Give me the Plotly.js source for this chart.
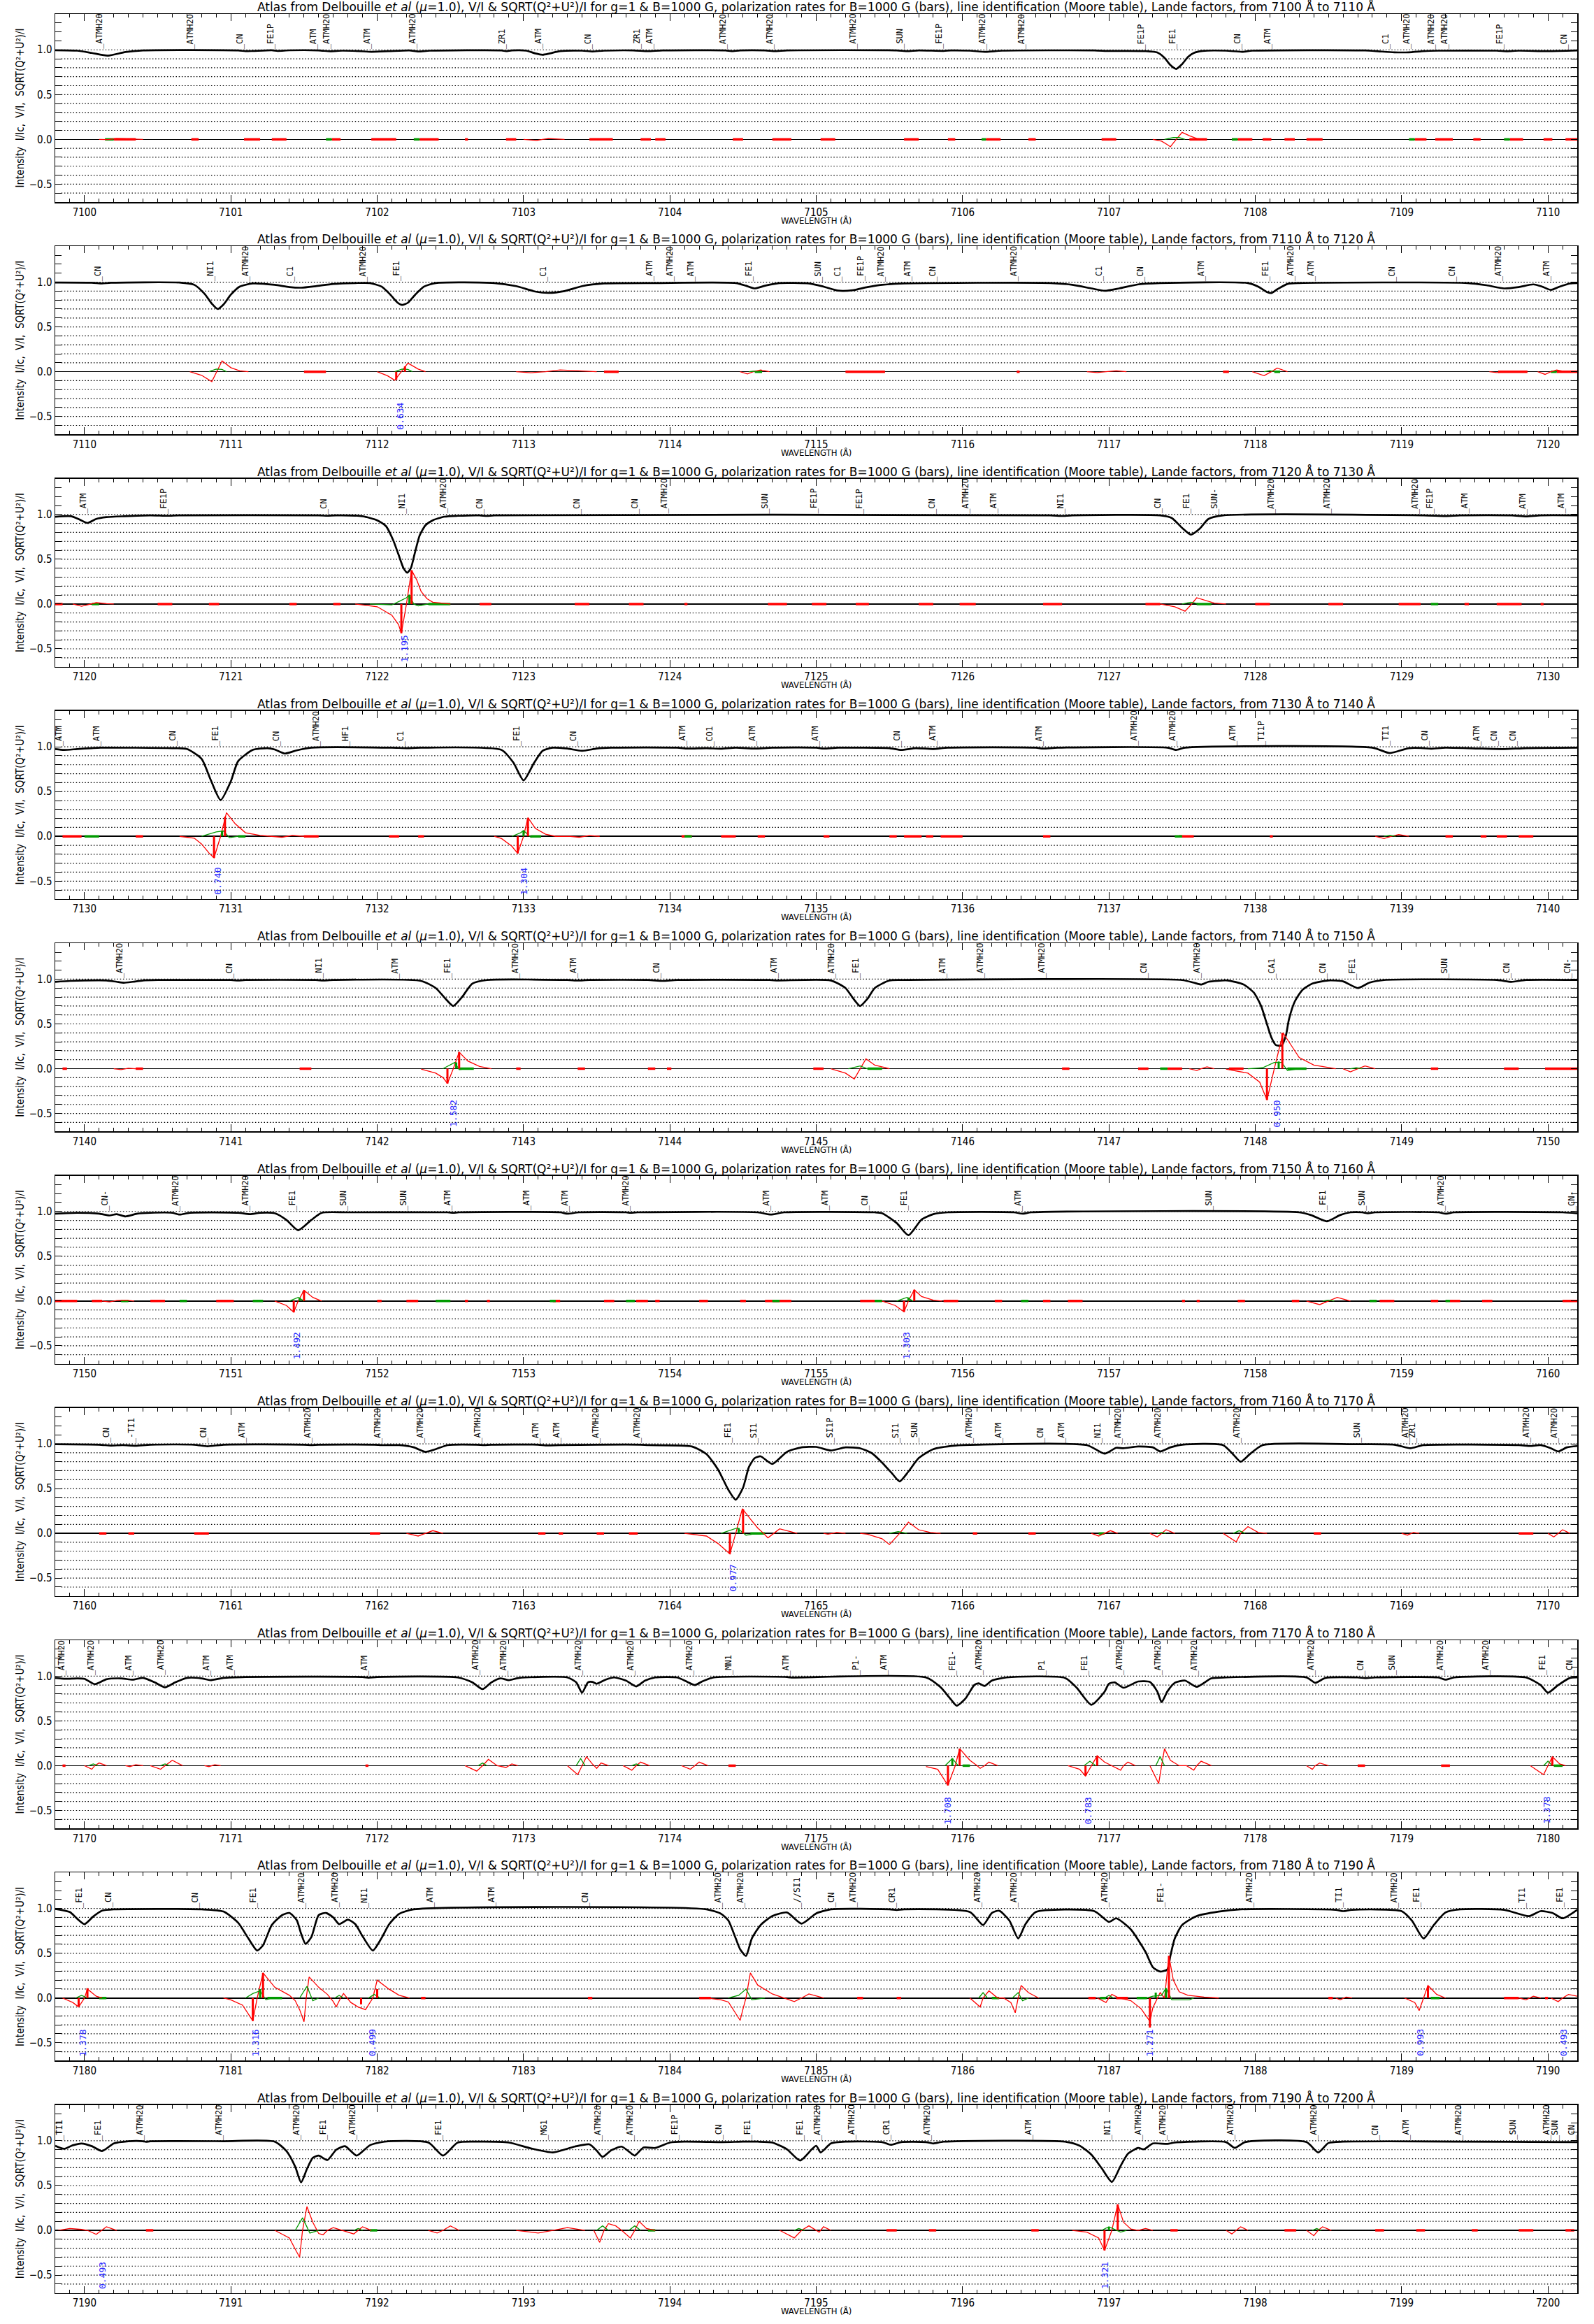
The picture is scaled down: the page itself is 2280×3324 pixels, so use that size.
<!DOCTYPE html>
<html>
<head>
<meta charset="utf-8">
<script src="https://cdn.plot.ly/plotly-3.0.1.min.js"></script>
<style>html,body{margin:0;padding:0;background:#fff;}#chart{width:2280px;height:3324px;}</style>
</head>
<body>
<div id="chart"></div>
<script>
// ---------------- DATA ----------------
const PANEL_STARTS = [7100,7110,7120,7130,7140,7150,7160,7170,7180,7190];

// ---- panel 1 : 7100-7110
const SPEC_1 = [[7099.80,0.995],[7099.95,0.99],[7100.05,0.965],[7100.16,0.935],[7100.28,0.975],[7100.40,0.993],[7101.05,0.993],[7101.10,0.985],[7101.15,0.987],[7101.28,0.995],[7101.32,0.988],[7101.40,0.994],[7101.60,0.993],[7101.68,0.983],[7101.76,0.99],[7101.88,0.985],[7101.96,0.978],[7102.08,0.985],[7102.22,0.993],[7102.28,0.982],[7102.36,0.99],[7102.85,0.993],[7102.88,0.985],[7102.92,0.993],[7103.02,0.99],[7103.08,0.96],[7103.13,0.945],[7103.18,0.96],[7103.25,0.985],[7103.40,0.99],[7103.47,0.982],[7103.55,0.99],[7103.75,0.993],[7103.85,0.985],[7103.95,0.993],[7104.38,0.993],[7104.42,0.985],[7104.48,0.993],[7104.65,0.993],[7104.72,0.985],[7104.80,0.993],[7105.55,0.993],[7105.62,0.985],[7105.70,0.993],[7105.87,0.988],[7105.92,0.993],[7106.05,0.99],[7106.16,0.977],[7106.27,0.99],[7106.90,0.993],[7107.00,0.987],[7107.25,0.985],[7107.33,0.97],[7107.38,0.91],[7107.42,0.83],[7107.46,0.786],[7107.50,0.84],[7107.54,0.92],[7107.58,0.965],[7107.64,0.987],[7107.80,0.99],[7107.91,0.978],[7107.98,0.99],[7108.75,0.993],[7108.85,0.982],[7108.95,0.972],[7109.05,0.972],[7109.15,0.985],[7109.25,0.99],[7109.65,0.99],[7109.72,0.984],[7109.80,0.99],[7110.00,0.985],[7110.20,0.993]];
const V_1 = [[7100.10,0],[7100.16,-0.003],[7100.22,0.01],[7100.30,0.008],[7100.40,0],null,[7103.00,0],[7103.09,-0.012],[7103.13,0],[7103.17,0.01],[7103.28,0],null,[7107.30,0],[7107.36,-0.02],[7107.40,-0.06],[7107.42,-0.083],[7107.46,0],[7107.50,0.078],[7107.55,0.04],[7107.60,0.01],[7107.66,0]];
const Q_1 = [[7107.38,0],[7107.44,0.02],[7107.48,0.02],[7107.52,0]];
const VBAR_1 = [];
const QBAR_1 = [];
const VDASH_1 = [[7100.20,7100.35],[7100.73,7100.78],[7101.09,7101.20],[7101.28,7101.38],[7101.69,7101.75],[7101.96,7102.13],[7102.29,7102.42],[7102.60,7102.62],[7102.88,7102.95],[7103.45,7103.61],[7103.80,7103.87],[7103.90,7103.97],[7104.43,7104.50],[7104.70,7104.83],[7105.03,7105.13],[7105.60,7105.70],[7105.90,7105.95],[7106.16,7106.26],[7106.45,7106.50],[7106.95,7107.05],[7107.55,7107.67],[7107.88,7107.98],[7108.05,7108.11],[7108.20,7108.27],[7108.35,7108.46],[7109.09,7109.17],[7109.23,7109.35],[7109.49,7109.54],[7109.74,7109.83],[7109.97,7110.03],[7110.12,7110.20]];
const QDASH_1 = [[7100.14,7100.20],[7101.65,7101.69],[7102.25,7102.29],[7106.13,7106.16],[7107.84,7107.88],[7109.05,7109.09],[7109.70,7109.74]];
const IDS_1 = [[7100.13,'ATMH2O'],[7100.75,'ATMH2O'],[7101.09,'CN'],[7101.30,'FE1P'],[7101.59,'ATM'],[7101.68,'ATMH2O'],[7101.96,'ATM'],[7102.27,'ATMH2O'],[7102.88,'ZR1'],[7103.13,'ATM'],[7103.47,'CN'],[7103.80,'ZR1'],[7103.89,'ATM'],[7104.39,'ATMH2O'],[7104.71,'ATMH2O'],[7105.28,'ATMH2O'],[7105.60,'SUN'],[7105.87,'FE1P'],[7106.16,'ATMH2O'],[7106.43,'ATMH2O'],[7107.25,'FE1P'],[7107.46,'FE1'],[7107.91,'CN'],[7108.11,'ATM'],[7108.92,'C1'],[7109.06,'ATMH2O'],[7109.23,'ATMH2O'],[7109.32,'ATMH2O'],[7109.70,'FE1P'],[7110.14,'CN']];
const LANDE_1 = [];

// ---- panel 2 : 7110-7120
const SPEC_2 = [[7109.80,0.995],[7110.05,0.993],[7110.12,0.985],[7110.18,0.993],[7110.65,0.995],[7110.75,0.97],[7110.82,0.87],[7110.87,0.76],[7110.91,0.70],[7110.95,0.75],[7111.00,0.86],[7111.06,0.95],[7111.15,0.985],[7111.30,0.97],[7111.40,0.945],[7111.48,0.938],[7111.58,0.955],[7111.70,0.98],[7111.85,0.99],[7111.95,0.99],[7112.03,0.95],[7112.09,0.86],[7112.14,0.77],[7112.17,0.745],[7112.21,0.77],[7112.26,0.86],[7112.32,0.95],[7112.40,0.99],[7112.80,0.99],[7112.95,0.955],[7113.08,0.895],[7113.17,0.88],[7113.28,0.9],[7113.40,0.955],[7113.55,0.985],[7113.90,0.99],[7114.45,0.99],[7114.52,0.96],[7114.58,0.93],[7114.65,0.96],[7114.75,0.99],[7114.95,0.985],[7115.05,0.95],[7115.15,0.905],[7115.25,0.91],[7115.35,0.945],[7115.45,0.97],[7115.60,0.985],[7116.60,0.99],[7116.75,0.97],[7116.88,0.93],[7116.97,0.903],[7117.07,0.93],[7117.20,0.975],[7117.35,0.99],[7117.95,0.99],[7118.02,0.95],[7118.08,0.89],[7118.11,0.878],[7118.15,0.92],[7118.22,0.98],[7118.30,0.99],[7119.45,0.99],[7119.58,0.965],[7119.70,0.93],[7119.80,0.945],[7119.90,0.975],[7119.96,0.95],[7120.02,0.913],[7120.08,0.95],[7120.15,0.985],[7120.20,0.99]];
const V_2 = [[7110.72,0],[7110.80,-0.04],[7110.87,-0.11],[7110.905,0],[7110.94,0.12],[7111.00,0.045],[7111.06,0.01],[7111.12,0],null,[7112.00,0],[7112.07,-0.045],[7112.12,-0.095],[7112.165,0],[7112.21,0.095],[7112.28,0.03],[7112.33,0],null,[7112.95,0],[7113.05,-0.012],[7113.15,0],[7113.25,0.02],[7113.35,0.012],[7113.50,0],null,[7114.48,0],[7114.53,-0.025],[7114.57,0],[7114.62,0.02],[7114.68,0],null,[7116.85,0],[7116.92,-0.01],[7116.98,0],[7117.05,0.01],[7117.12,0],null,[7117.98,0],[7118.06,-0.045],[7118.11,0],[7118.15,0.04],[7118.22,0],null,[7119.60,0],[7119.65,-0.01],[7119.72,0],null,[7119.93,0],[7119.98,-0.03],[7120.02,0],[7120.06,0.02],[7120.12,0]];
const Q_2 = [[7110.85,0],[7110.90,0.03],[7110.94,0.025],[7110.97,0],null,[7112.12,0],[7112.17,0.03],[7112.21,0.025],[7112.24,0],null,[7114.54,0],[7114.57,0.006],[7114.60,0],null,[7118.06,0],[7118.10,0.012],[7118.14,0]];
const VBAR_2 = [[7112.13,-0.09],[7112.19,0.06]];
const QBAR_2 = [];
const VDASH_2 = [[7111.50,7111.65],[7113.55,7113.65],[7115.20,7115.47],[7116.37,7116.39],[7117.78,7117.82],[7119.66,7119.86],[7120.06,7120.20]];
const QDASH_2 = [[7114.58,7114.63],[7118.13,7118.17],[7120.02,7120.06]];
const IDS_2 = [[7110.12,'CN'],[7110.89,'NI1'],[7111.13,'ATMH2O'],[7111.43,'C1'],[7111.93,'ATMH2O'],[7112.16,'FE1'],[7113.16,'C1'],[7113.89,'ATM'],[7114.03,'ATMH2O'],[7114.17,'ATM'],[7114.57,'FE1'],[7115.04,'SUN'],[7115.17,'C1'],[7115.33,'FE1P'],[7115.47,'ATMH2O'],[7115.65,'ATM'],[7115.82,'CN'],[7116.38,'ATMH2O'],[7116.96,'C1'],[7117.24,'CN'],[7117.66,'ATM'],[7118.10,'FE1'],[7118.27,'ATMH2O'],[7118.41,'ATM'],[7118.96,'CN'],[7119.37,'CN'],[7119.69,'ATMH2O'],[7120.02,'ATM']];
const LANDE_2 = [[7112.16,0.634]];

// ---- panel 3 : 7120-7130
const SPEC_3 = [[7119.80,0.975],[7119.91,0.98],[7119.97,0.94],[7120.02,0.905],[7120.08,0.95],[7120.15,0.97],[7120.27,0.98],[7120.45,0.99],[7120.57,0.985],[7120.65,0.99],[7121.60,0.99],[7121.66,0.985],[7121.72,0.99],[7121.90,0.98],[7122.00,0.935],[7122.06,0.87],[7122.11,0.71],[7122.145,0.555],[7122.18,0.40],[7122.205,0.35],[7122.23,0.40],[7122.255,0.555],[7122.29,0.765],[7122.33,0.88],[7122.38,0.935],[7122.46,0.975],[7122.55,0.985],[7122.70,0.99],[7122.75,0.983],[7122.80,0.99],[7126.60,0.99],[7126.68,0.983],[7126.75,0.99],[7127.35,0.99],[7127.43,0.96],[7127.50,0.85],[7127.56,0.775],[7127.62,0.84],[7127.68,0.95],[7127.78,0.99],[7129.15,0.99],[7129.30,0.982],[7129.40,0.99],[7129.75,0.99],[7129.85,0.978],[7129.95,0.99],[7130.20,0.99]];
const V_3 = [[7119.92,0],[7119.98,-0.025],[7120.03,-0.005],[7120.08,0.015],[7120.15,0.005],[7120.20,0],null,[7121.85,0],[7122.00,-0.03],[7122.10,-0.125],[7122.146,-0.23],[7122.165,-0.327],[7122.20,0],[7122.235,0.377],[7122.27,0.27],[7122.30,0.14],[7122.34,0.06],[7122.38,0.02],[7122.46,0.005],[7122.50,0],null,[7127.35,0],[7127.45,-0.03],[7127.52,-0.08],[7127.56,-0.01],[7127.60,0.07],[7127.66,0.04],[7127.72,0.01],[7127.80,0]];
const Q_3 = [[7121.95,0],[7122.10,-0.01],[7122.15,0.03],[7122.20,0.07],[7122.22,0.1],[7122.25,0],[7122.28,-0.02],[7122.35,0],null,[7127.50,0],[7127.56,0.02],[7127.62,0]];
const VBAR_3 = [[7122.165,-0.327],[7122.235,0.377]];
const QBAR_3 = [[7122.22,0.1]];
const VDASH_3 = [[7119.80,7119.85],[7120.50,7120.60],[7120.85,7120.92],[7121.40,7121.45],[7121.70,7121.75],[7122.70,7122.78],[7123.35,7123.45],[7123.72,7123.82],[7124.10,7124.12],[7124.67,7124.80],[7124.97,7125.07],[7125.27,7125.36],[7125.70,7125.80],[7125.98,7126.09],[7126.55,7126.68],[7127.25,7127.35],[7128.00,7128.10],[7128.50,7128.60],[7128.98,7129.13],[7129.43,7129.46],[7129.65,7129.82],[7129.95,7129.97]];
const QDASH_3 = [[7120.05,7120.10],[7122.35,7122.50],[7127.60,7127.70],[7129.20,7129.25]];
const IDS_3 = [[7120.02,'ATM'],[7120.57,'FE1P'],[7121.66,'CN'],[7122.20,'NI1'],[7122.48,'ATMH2O'],[7122.73,'CN'],[7123.39,'CN'],[7123.79,'CN'],[7123.99,'ATMH2O'],[7124.68,'SUN'],[7125.01,'FE1P'],[7125.32,'FE1P'],[7125.82,'CN'],[7126.05,'ATMH2O'],[7126.24,'ATM'],[7126.70,'NI1'],[7127.36,'CN'],[7127.56,'FE1'],[7127.75,'SUN-'],[7128.14,'ATMH2O'],[7128.52,'ATMH2O'],[7129.12,'ATMH2O'],[7129.22,'FE1P'],[7129.46,'ATM'],[7129.86,'ATM'],[7130.12,'ATM']];
const LANDE_3 = [[7122.19,1.195]];

// ---- panel 4 : 7130-7140
const SPEC_4 = [[7129.80,0.975],[7129.86,0.965],[7129.95,0.975],[7130.05,0.985],[7130.11,0.99],[7130.60,0.985],[7130.70,0.975],[7130.80,0.865],[7130.86,0.64],[7130.93,0.405],[7131.00,0.615],[7131.05,0.84],[7131.15,0.965],[7131.25,0.985],[7131.30,0.97],[7131.37,0.925],[7131.45,0.96],[7131.55,0.99],[7132.10,0.99],[7132.20,0.985],[7132.30,0.99],[7132.85,0.965],[7132.93,0.825],[7133.00,0.625],[7133.07,0.815],[7133.13,0.955],[7133.20,0.99],[7133.30,0.98],[7133.40,0.955],[7133.50,0.98],[7133.60,0.99],[7134.05,0.99],[7134.12,0.98],[7134.25,0.985],[7134.35,0.978],[7134.45,0.99],[7134.58,0.98],[7134.70,0.99],[7135.00,0.99],[7135.05,0.98],[7135.15,0.99],[7135.50,0.985],[7135.58,0.965],[7135.68,0.985],[7135.80,0.975],[7135.90,0.99],[7136.50,0.99],[7136.55,0.98],[7136.65,0.99],[7137.40,0.99],[7137.46,0.965],[7137.52,0.99],[7138.80,0.99],[7138.92,0.93],[7139.05,0.985],[7139.15,0.985],[7139.20,0.978],[7139.30,0.99],[7139.55,0.98],[7139.70,0.975],[7139.85,0.985],[7140.20,0.99]];
const V_4 = [[7130.65,0],[7130.75,-0.02],[7130.80,-0.085],[7130.85,-0.185],[7130.885,-0.24],[7130.93,0],[7130.97,0.265],[7131.03,0.14],[7131.10,0.04],[7131.20,0.01],[7131.28,0],[7131.35,-0.01],[7131.42,0.01],[7131.50,0],null,[7132.80,0],[7132.85,-0.025],[7132.92,-0.11],[7132.96,-0.19],[7133.00,0],[7133.03,0.21],[7133.08,0.09],[7133.15,0.025],[7133.22,0],[7133.32,0],[7133.38,-0.01],[7133.45,0.008],[7133.52,0],null,[7138.82,0],[7138.88,-0.025],[7138.93,0],[7138.98,0.02],[7139.05,0]];
const Q_4 = [[7130.80,0],[7130.90,0.05],[7130.95,0.06],[7130.99,-0.015],[7131.05,0],null,[7132.92,0],[7132.98,0.04],[7133.00,0.065],[7133.05,-0.01],[7133.10,0],null,[7138.88,0],[7138.92,0.01],[7138.96,0]];
const VBAR_4 = [[7130.885,-0.24],[7130.96,0.22],[7132.96,-0.19],[7133.03,0.2]];
const QBAR_4 = [[7130.94,0.06],[7133.00,0.065]];
const VDASH_4 = [[7129.85,7129.98],[7130.35,7130.40],[7131.50,7131.60],[7132.08,7132.15],[7132.28,7132.32],[7134.08,7134.15],[7134.35,7134.45],[7134.60,7134.65],[7135.05,7135.09],[7135.50,7135.55],[7135.60,7135.72],[7135.75,7135.80],[7135.85,7136.00],[7136.55,7136.60],[7137.48,7137.58],[7138.10,7138.12],[7139.30,7139.35],[7139.54,7139.58],[7139.65,7139.72],[7139.80,7139.90]];
const QDASH_4 = [[7130.00,7130.10],[7131.05,7131.10],[7133.05,7133.12],[7134.10,7134.15],[7137.45,7137.50]];
const IDS_4 = [[7129.85,'ATM'],[7130.11,'ATM'],[7130.63,'CN'],[7130.92,'FE1'],[7131.34,'CN'],[7131.61,'ATMH2O'],[7131.81,'HF1'],[7132.19,'C1'],[7132.98,'FE1'],[7133.37,'CN'],[7134.11,'ATM'],[7134.30,'CO1'],[7134.59,'ATM'],[7135.02,'ATM'],[7135.58,'CN'],[7135.82,'ATM'],[7136.55,'ATM'],[7137.20,'ATMH2O'],[7137.46,'ATMH2O'],[7137.87,'ATM'],[7138.07,'TI1P'],[7138.92,'TI1'],[7139.19,'CN'],[7139.54,'ATM'],[7139.66,'CN'],[7139.79,'CN']];
const LANDE_4 = [[7130.91,0.740],[7133.00,1.304]];

// ---- panel 5 : 7140-7150
const SPEC_5 = [[7139.80,0.97],[7139.90,0.98],[7140.00,0.985],[7140.15,0.985],[7140.22,0.97],[7140.27,0.96],[7140.33,0.97],[7140.40,0.985],[7140.50,0.99],[7141.00,0.99],[7141.05,0.985],[7141.10,0.99],[7141.58,0.99],[7141.63,0.985],[7141.70,0.99],[7142.30,0.98],[7142.40,0.9],[7142.47,0.775],[7142.52,0.70],[7142.58,0.8],[7142.65,0.95],[7142.75,0.99],[7143.30,0.99],[7143.37,0.985],[7143.45,0.99],[7143.85,0.99],[7143.95,0.98],[7144.05,0.99],[7144.68,0.99],[7144.74,0.985],[7145.10,0.985],[7145.20,0.9],[7145.25,0.79],[7145.30,0.70],[7145.35,0.78],[7145.40,0.9],[7145.50,0.985],[7145.60,0.99],[7147.50,0.99],[7147.58,0.96],[7147.63,0.94],[7147.68,0.97],[7147.81,0.985],[7147.92,0.94],[7147.99,0.85],[7148.04,0.70],[7148.07,0.55],[7148.11,0.35],[7148.14,0.265],[7148.18,0.26],[7148.21,0.375],[7148.23,0.55],[7148.27,0.75],[7148.32,0.875],[7148.39,0.95],[7148.50,0.985],[7148.60,0.975],[7148.70,0.90],[7148.78,0.96],[7148.88,0.99],[7149.65,0.99],[7149.75,0.97],[7149.85,0.99],[7150.20,0.99]];
const V_5 = [[7140.20,0],[7140.25,-0.01],[7140.30,0.005],[7140.35,0],null,[7142.30,-0.005],[7142.40,-0.05],[7142.45,-0.1],[7142.48,-0.165],[7142.52,0],[7142.56,0.185],[7142.62,0.085],[7142.70,0.025],[7142.78,0],null,[7145.10,0],[7145.20,-0.05],[7145.26,-0.115],[7145.30,0],[7145.34,0.11],[7145.40,0.04],[7145.50,0],null,[7147.55,0],[7147.60,-0.02],[7147.63,0],[7147.67,0.02],[7147.72,0],null,[7147.80,-0.005],[7147.95,-0.05],[7148.03,-0.15],[7148.08,-0.35],[7148.13,0],[7148.19,0.4],[7148.25,0.25],[7148.30,0.125],[7148.40,0.04],[7148.50,0.01],[7148.55,0],null,[7148.60,0],[7148.65,-0.035],[7148.70,0],[7148.75,0.03],[7148.82,0]];
const Q_5 = [[7142.45,0],[7142.50,0.04],[7142.53,0.07],[7142.56,-0.01],[7142.62,0],null,[7145.22,0],[7145.28,0.02],[7145.30,0.03],[7145.35,0],null,[7147.95,0],[7148.05,0.01],[7148.13,0.07],[7148.18,0.07],[7148.22,-0.02],[7148.30,0],null,[7148.65,0],[7148.69,0.01],[7148.73,0]];
const VBAR_5 = [[7142.48,-0.165],[7142.56,0.185],[7148.08,-0.35],[7148.185,0.4]];
const QBAR_5 = [[7142.54,0.07],[7148.16,0.08]];
const VDASH_5 = [[7139.85,7139.88],[7140.35,7140.40],[7141.47,7141.55],[7142.95,7142.98],[7143.37,7143.42],[7143.85,7143.90],[7143.98,7144.01],[7144.98,7145.05],[7146.68,7146.73],[7147.20,7147.27],[7147.40,7147.50],[7147.82,7147.92],[7149.20,7149.25],[7149.70,7149.80],[7149.98,7150.20]];
const QDASH_5 = [[7142.56,7142.66],[7145.35,7145.45],[7147.35,7147.40],[7148.22,7148.35]];
const IDS_5 = [[7140.27,'ATMH2O'],[7141.02,'CN'],[7141.63,'NI1'],[7142.15,'ATM'],[7142.51,'FE1'],[7142.97,'ATMH2O'],[7143.37,'ATM'],[7143.94,'CN'],[7144.74,'ATM'],[7145.13,'ATMH2O'],[7145.30,'FE1'],[7145.89,'ATM'],[7146.15,'ATMH2O'],[7146.57,'ATMH2O'],[7147.27,'CN'],[7147.63,'ATMH2O'],[7148.14,'CA1'],[7148.49,'CN'],[7148.69,'FE1'],[7149.32,'SUN'],[7149.75,'CN'],[7150.16,'CN-']];
const LANDE_5 = [[7142.52,1.582],[7148.15,0.950]];

// ---- panel 6 : 7150-7160
const SPEC_6 = [[7149.80,0.975],[7149.95,0.985],[7150.10,0.975],[7150.17,0.955],[7150.22,0.97],[7150.28,0.945],[7150.36,0.975],[7150.45,0.985],[7150.60,0.985],[7150.65,0.965],[7150.72,0.985],[7151.05,0.985],[7151.13,0.97],[7151.20,0.985],[7151.30,0.98],[7151.38,0.905],[7151.46,0.79],[7151.55,0.905],[7151.62,0.985],[7151.80,0.99],[7152.48,0.99],[7152.52,0.985],[7152.56,0.99],[7153.25,0.99],[7153.30,0.975],[7153.38,0.99],[7153.70,0.99],[7153.73,0.985],[7153.78,0.99],[7154.60,0.99],[7154.69,0.965],[7154.78,0.99],[7155.40,0.99],[7155.45,0.98],[7155.55,0.87],[7155.63,0.735],[7155.72,0.91],[7155.80,0.97],[7155.90,0.99],[7156.35,0.99],[7156.41,0.975],[7156.47,0.99],[7158.30,0.99],[7158.38,0.96],[7158.49,0.89],[7158.58,0.96],[7158.65,0.99],[7158.73,0.99],[7158.77,0.98],[7158.82,0.99],[7159.25,0.99],[7159.30,0.975],[7159.36,0.99],[7160.10,0.99],[7160.20,0.98]];
const V_6 = [[7150.12,0],[7150.17,-0.01],[7150.22,0.005],[7150.28,0.01],[7150.34,0],null,[7151.30,0],[7151.38,-0.05],[7151.43,-0.125],[7151.46,0],[7151.50,0.12],[7151.56,0.04],[7151.62,0],null,[7155.45,0],[7155.54,-0.05],[7155.60,-0.12],[7155.63,0],[7155.67,0.125],[7155.72,0.05],[7155.80,0.01],[7155.86,0],null,[7158.35,0],[7158.44,-0.04],[7158.50,0],[7158.56,0.04],[7158.65,0]];
const Q_6 = [[7151.40,0],[7151.46,0.04],[7151.50,0],null,[7155.55,0],[7155.62,0.04],[7155.66,0],null,[7158.46,0],[7158.50,0.01],[7158.54,0]];
const VBAR_6 = [[7151.43,-0.125],[7151.50,0.12],[7155.60,-0.12],[7155.67,0.125]];
const QBAR_6 = [[7151.47,0.04],[7155.63,0.04]];
const VDASH_6 = [[7149.80,7149.95],[7150.05,7150.12],[7150.45,7150.55],[7150.90,7151.02],[7152.00,7152.03],[7152.20,7152.28],[7152.60,7152.62],[7152.75,7152.77],[7153.20,7153.25],[7153.55,7153.62],[7153.77,7153.85],[7153.90,7153.93],[7154.20,7154.26],[7154.48,7154.52],[7154.65,7154.83],[7155.30,7155.40],[7155.87,7155.97],[7156.22,7156.27],[7156.55,7156.60],[7156.72,7156.82],[7157.50,7157.52],[7157.60,7157.62],[7157.88,7157.93],[7158.25,7158.30],[7158.85,7158.95],[7159.20,7159.25],[7159.33,7159.40],[7159.55,7159.62],[7160.10,7160.20]];
const QDASH_6 = [[7150.25,7150.30],[7150.65,7150.70],[7151.15,7151.22],[7152.40,7152.50],[7153.18,7153.22],[7153.70,7153.76],[7154.70,7154.75],[7155.40,7155.45],[7156.40,7156.45],[7158.78,7158.83],[7159.30,7159.33]];
const IDS_6 = [[7150.17,'CN-'],[7150.65,'ATMH2O'],[7151.13,'ATMH2O'],[7151.45,'FE1'],[7151.80,'SUN'],[7152.21,'SUN'],[7152.51,'ATM'],[7153.05,'ATM'],[7153.31,'ATM'],[7153.73,'ATMH2O'],[7154.69,'ATM'],[7155.09,'ATM'],[7155.36,'CN'],[7155.63,'FE1'],[7156.41,'ATM'],[7157.71,'SUN'],[7158.49,'FE1'],[7158.76,'SUN'],[7159.30,'ATMH2O'],[7160.19,'CN-']];
const LANDE_6 = [[7151.45,1.492],[7155.62,1.303]];

// ---- panel 7 : 7160-7170
const SPEC_7 = [[7159.80,0.995],[7160.10,0.99],[7160.18,0.98],[7160.26,0.985],[7160.35,0.978],[7160.45,0.99],[7160.75,0.99],[7160.84,0.972],[7160.95,0.99],[7161.50,0.99],[7161.55,0.985],[7161.60,0.99],[7161.98,0.99],[7162.03,0.985],[7162.15,0.985],[7162.25,0.96],[7162.33,0.91],[7162.40,0.94],[7162.48,0.985],[7162.68,0.99],[7162.73,0.985],[7162.78,0.99],[7163.10,0.99],[7163.15,0.982],[7163.25,0.985],[7163.50,0.99],[7163.80,0.99],[7163.85,0.985],[7164.15,0.97],[7164.25,0.885],[7164.33,0.71],[7164.40,0.485],[7164.45,0.375],[7164.50,0.51],[7164.54,0.74],[7164.58,0.84],[7164.62,0.86],[7164.70,0.775],[7164.80,0.91],[7164.90,0.96],[7165.00,0.965],[7165.10,0.925],[7165.20,0.96],[7165.30,0.95],[7165.38,0.895],[7165.45,0.79],[7165.52,0.665],[7165.57,0.58],[7165.63,0.69],[7165.70,0.84],[7165.80,0.94],[7165.95,0.98],[7166.10,0.99],[7166.85,0.985],[7166.97,0.89],[7167.05,0.955],[7167.10,0.95],[7167.20,0.97],[7167.30,0.96],[7167.35,0.915],[7167.42,0.96],[7167.50,0.99],[7167.78,0.985],[7167.85,0.88],[7167.90,0.80],[7167.96,0.88],[7168.05,0.985],[7168.70,0.995],[7168.95,0.99],[7169.06,0.95],[7169.15,0.985],[7169.80,0.985],[7169.88,0.975],[7169.95,0.985],[7170.02,0.95],[7170.07,0.915],[7170.13,0.96],[7170.20,0.975]];
const V_7 = [[7162.20,0],[7162.28,-0.03],[7162.33,0],[7162.38,0.03],[7162.45,0],null,[7164.10,0],[7164.25,-0.03],[7164.33,-0.115],[7164.38,-0.19],[7164.41,-0.23],[7164.45,0],[7164.495,0.275],[7164.55,0.16],[7164.60,0.06],[7164.64,0],[7164.67,-0.05],[7164.71,0],[7164.75,0.05],[7164.80,0.03],[7164.87,0],null,[7165.05,0],[7165.08,-0.01],[7165.14,0.01],[7165.20,0],null,[7165.30,0],[7165.35,-0.01],[7165.45,-0.06],[7165.50,-0.125],[7165.57,0],[7165.63,0.125],[7165.70,0.04],[7165.78,0.01],[7165.85,0],null,[7166.88,0],[7166.93,-0.03],[7166.97,0],[7167.01,0.03],[7167.06,0],null,[7167.28,0],[7167.33,-0.04],[7167.36,0],[7167.39,0.04],[7167.45,0],null,[7167.78,0],[7167.87,-0.095],[7167.90,0],[7167.95,0.075],[7168.02,0.01],[7168.08,0],null,[7169.00,0],[7169.04,-0.02],[7169.08,0.01],[7169.12,0],null,[7170.00,0],[7170.04,-0.04],[7170.07,0],[7170.10,0.04],[7170.15,0]];
const Q_7 = [[7164.35,0],[7164.42,0.04],[7164.46,0.06],[7164.52,-0.02],[7164.60,0],null,[7165.50,0],[7165.56,0.02],[7165.62,0],null,[7167.33,0],[7167.36,0.01],[7167.39,0],null,[7167.85,0],[7167.89,0.03],[7167.93,0]];
const VBAR_7 = [[7164.41,-0.23],[7164.50,0.27]];
const QBAR_7 = [[7164.47,0.06]];
const VDASH_7 = [[7160.10,7160.15],[7160.30,7160.34],[7160.75,7160.85],[7161.95,7162.02],[7163.10,7163.15],[7163.24,7163.27],[7163.50,7163.55],[7163.72,7163.78],[7166.07,7166.10],[7166.45,7166.50],[7168.40,7168.45],[7169.80,7169.90]];
const QDASH_7 = [[7164.55,7164.65],[7166.93,7166.97]];
const IDS_7 = [[7160.18,'CN'],[7160.35,'-TI1'],[7160.84,'CN'],[7161.10,'ATM'],[7161.55,'ATMH2O'],[7162.03,'ATMH2O'],[7162.32,'ATMH2O'],[7162.71,'ATMH2O'],[7163.11,'ATM'],[7163.25,'ATM'],[7163.52,'ATMH2O'],[7163.80,'ATMH2O'],[7164.42,'FE1'],[7164.60,'SI1'],[7165.12,'SI1P'],[7165.57,'SI1'],[7165.70,'SUN'],[7166.07,'ATMH2O'],[7166.27,'ATM'],[7166.56,'CN'],[7166.70,'ATM'],[7166.95,'NI1'],[7167.09,'ATMH2O'],[7167.36,'ATMH2O'],[7167.90,'ATMH2O'],[7168.72,'SUN'],[7169.05,'ATMH2O'],[7169.10,'ZR1'],[7169.88,'ATMH2O'],[7170.07,'ATMH2O']];
const LANDE_7 = [[7164.43,0.977]];

// ---- panel 8 : 7170-7180
const SPEC_8 = [[7169.80,0.98],[7169.87,0.97],[7169.95,0.975],[7170.00,0.97],[7170.07,0.91],[7170.15,0.965],[7170.25,0.975],[7170.33,0.96],[7170.40,0.98],[7170.48,0.93],[7170.55,0.875],[7170.62,0.93],[7170.70,0.98],[7170.80,0.975],[7170.86,0.955],[7170.95,0.98],[7171.10,0.99],[7171.90,0.99],[7171.94,0.982],[7172.00,0.99],[7172.55,0.985],[7172.65,0.93],[7172.72,0.855],[7172.78,0.93],[7172.84,0.975],[7172.90,0.955],[7172.97,0.98],[7173.30,0.985],[7173.36,0.93],[7173.40,0.815],[7173.44,0.93],[7173.47,0.935],[7173.50,0.915],[7173.56,0.96],[7173.62,0.985],[7173.70,0.95],[7173.77,0.885],[7173.83,0.95],[7173.90,0.985],[7174.05,0.985],[7174.12,0.935],[7174.17,0.9],[7174.22,0.94],[7174.30,0.985],[7174.80,0.99],[7174.82,0.985],[7175.75,0.985],[7175.85,0.875],[7175.92,0.74],[7175.96,0.67],[7176.02,0.75],[7176.08,0.9],[7176.11,0.92],[7176.15,0.89],[7176.20,0.95],[7176.30,0.985],[7176.70,0.98],[7176.78,0.87],[7176.88,0.68],[7176.97,0.825],[7177.00,0.915],[7177.04,0.93],[7177.10,0.87],[7177.20,0.94],[7177.28,0.935],[7177.33,0.83],[7177.36,0.71],[7177.40,0.83],[7177.45,0.925],[7177.52,0.95],[7177.60,0.88],[7177.70,0.975],[7177.80,0.985],[7178.35,0.985],[7178.41,0.925],[7178.48,0.98],[7178.70,0.985],[7178.75,0.978],[7178.82,0.985],[7179.25,0.985],[7179.30,0.96],[7179.36,0.985],[7179.85,0.985],[7179.95,0.9],[7180.00,0.815],[7180.07,0.9],[7180.15,0.98],[7180.20,0.985]];
const V_8 = [[7170.00,0],[7170.05,-0.04],[7170.07,0],[7170.10,0.03],[7170.15,0],null,[7170.28,0],[7170.31,-0.01],[7170.35,0.01],[7170.40,0],null,[7170.45,0],[7170.52,-0.04],[7170.55,0],[7170.60,0.06],[7170.67,0],null,[7170.82,0],[7170.85,-0.01],[7170.89,0.01],[7170.93,0],null,[7172.60,0],[7172.68,-0.06],[7172.72,0],[7172.76,0.07],[7172.82,0],[7172.88,-0.02],[7172.92,0.02],[7172.96,0],null,[7173.30,0],[7173.37,-0.1],[7173.40,0],[7173.43,0.1],[7173.47,0.02],[7173.50,-0.03],[7173.53,0.03],[7173.58,0],null,[7173.68,0],[7173.74,-0.05],[7173.77,0],[7173.80,0.04],[7173.86,0],null,[7174.08,0],[7174.14,-0.04],[7174.17,0],[7174.20,0.04],[7174.26,0],null,[7175.75,-0.01],[7175.83,-0.04],[7175.90,-0.22],[7175.95,0],[7175.98,0.19],[7176.05,0.06],[7176.10,0],[7176.12,-0.03],[7176.15,0],[7176.18,0.04],[7176.24,0],null,[7176.72,0],[7176.80,-0.04],[7176.84,-0.115],[7176.88,0],[7176.92,0.11],[7176.97,0.04],[7177.02,0],[7177.08,-0.05],[7177.10,0],[7177.13,0.04],[7177.18,0],null,[7177.28,0],[7177.34,-0.2],[7177.36,0],[7177.38,0.19],[7177.42,0.06],[7177.48,0],[7177.53,0],[7177.58,-0.05],[7177.60,0],[7177.63,0.05],[7177.70,0],null,[7178.35,0],[7178.39,-0.04],[7178.41,0],[7178.44,0.03],[7178.50,0],null,[7179.88,0],[7179.97,-0.1],[7180.00,0],[7180.03,0.1],[7180.08,0.02],[7180.12,0]];
const Q_8 = [[7170.03,0],[7170.06,0.02],[7170.09,0],null,[7170.52,0],[7170.55,0.02],[7170.58,0],null,[7172.69,0],[7172.72,0.03],[7172.75,0],null,[7173.36,0],[7173.39,0.08],[7173.42,0],null,[7173.74,0],[7173.77,0.02],[7173.80,0],null,[7175.88,0],[7175.93,0.08],[7175.97,0],null,[7176.83,0],[7176.87,0.05],[7176.91,0],null,[7177.32,0],[7177.35,0.1],[7177.38,0],null,[7179.97,0],[7180.00,0.05],[7180.03,0]];
const VBAR_8 = [[7175.90,-0.22],[7175.98,0.19],[7176.84,-0.115],[7176.92,0.11],[7180.03,0.09]];
const QBAR_8 = [[7175.93,0.08]];
const VDASH_8 = [[7169.85,7169.87],[7171.92,7171.94],[7174.40,7174.45],[7178.70,7178.75],[7179.27,7179.33]];
const QDASH_8 = [[7176.00,7176.05],[7180.04,7180.10]];
const IDS_8 = [[7169.87,'ATMH2O'],[7170.07,'ATMH2O'],[7170.33,'ATM'],[7170.55,'ATMH2O'],[7170.86,'ATM'],[7171.02,'ATM'],[7171.94,'ATM'],[7172.70,'ATMH2O'],[7172.89,'ATMH2O'],[7173.40,'ATMH2O'],[7173.76,'ATMH2O'],[7174.16,'ATMH2O'],[7174.43,'MN1'],[7174.82,'ATM'],[7175.30,'P1-'],[7175.49,'ATM'],[7175.96,'FE1-'],[7176.14,'ATMH2O'],[7176.57,'P1'],[7176.86,'FE1'],[7177.10,'ATMH2O'],[7177.36,'ATMH2O'],[7177.61,'ATMH2O'],[7178.41,'ATMH2O'],[7178.75,'CN'],[7178.96,'SUN'],[7179.29,'ATMH2O'],[7179.60,'ATMH2O'],[7179.99,'FE1'],[7180.18,'CN']];
const LANDE_8 = [[7175.90,1.708],[7176.86,0.783],[7179.99,1.378]];

// ---- panel 9 : 7180-7190
const SPEC_9 = [[7179.80,0.995],[7179.90,0.96],[7179.95,0.885],[7180.00,0.825],[7180.06,0.91],[7180.12,0.975],[7180.20,0.99],[7180.80,0.99],[7180.95,0.965],[7181.05,0.84],[7181.12,0.665],[7181.18,0.53],[7181.22,0.59],[7181.28,0.815],[7181.35,0.925],[7181.40,0.95],[7181.45,0.87],[7181.48,0.72],[7181.51,0.605],[7181.55,0.68],[7181.60,0.925],[7181.65,0.95],[7181.70,0.9],[7181.74,0.825],[7181.80,0.875],[7181.85,0.825],[7181.90,0.69],[7181.97,0.53],[7182.03,0.67],[7182.08,0.82],[7182.15,0.94],[7182.25,0.99],[7184.25,0.99],[7184.35,0.94],[7184.40,0.865],[7184.45,0.665],[7184.48,0.545],[7184.52,0.47],[7184.56,0.665],[7184.62,0.815],[7184.70,0.915],[7184.80,0.955],[7184.90,0.83],[7185.00,0.945],[7185.10,0.99],[7185.50,0.99],[7185.55,0.983],[7185.60,0.99],[7186.05,0.96],[7186.14,0.815],[7186.20,0.95],[7186.25,0.975],[7186.32,0.865],[7186.38,0.665],[7186.43,0.825],[7186.50,0.96],[7186.90,0.97],[7187.00,0.85],[7187.05,0.89],[7187.15,0.765],[7187.25,0.515],[7187.30,0.345],[7187.35,0.295],[7187.40,0.32],[7187.42,0.47],[7187.45,0.665],[7187.50,0.815],[7187.60,0.915],[7187.75,0.965],[7187.90,0.99],[7188.55,0.985],[7188.60,0.97],[7188.66,0.985],[7189.00,0.97],[7189.07,0.865],[7189.15,0.665],[7189.22,0.815],[7189.30,0.955],[7189.40,0.99],[7189.70,0.985],[7189.87,0.915],[7189.95,0.97],[7190.03,0.95],[7190.10,0.89],[7190.20,0.985]];
const V_9 = [[7179.85,0],[7179.92,-0.05],[7179.96,-0.1],[7180.00,0],[7180.02,0.1],[7180.08,0.02],[7180.12,0],null,[7180.95,0],[7181.00,-0.02],[7181.08,-0.08],[7181.15,-0.255],[7181.18,0],[7181.22,0.28],[7181.30,0.12],[7181.40,0.03],[7181.44,-0.03],[7181.47,-0.13],[7181.50,-0.265],[7181.515,0],[7181.535,0.235],[7181.60,0.12],[7181.66,0.04],[7181.70,-0.04],[7181.72,-0.1],[7181.75,0],[7181.77,0.05],[7181.82,-0.05],[7181.87,-0.1],[7181.92,-0.13],[7181.97,0],[7182.00,0.2],[7182.08,0.1],[7182.15,0.03],[7182.22,0],null,[7184.25,0],[7184.35,-0.02],[7184.40,-0.045],[7184.45,-0.18],[7184.48,-0.25],[7184.50,-0.12],[7184.52,0],[7184.55,0.28],[7184.60,0.145],[7184.70,0.045],[7184.78,0],[7184.85,-0.04],[7184.90,0],[7184.95,0.045],[7185.05,0],null,[7186.05,0],[7186.12,-0.1],[7186.14,0],[7186.18,0.08],[7186.24,0],[7186.28,0],[7186.33,-0.05],[7186.36,-0.165],[7186.38,0],[7186.40,0.14],[7186.45,0.06],[7186.52,0],null,[7186.92,0],[7186.98,-0.05],[7187.00,0],[7187.02,0.04],[7187.07,0],[7187.15,-0.03],[7187.22,-0.12],[7187.28,-0.26],[7187.30,-0.11],[7187.33,0],[7187.35,0.06],[7187.38,0],[7187.41,0.47],[7187.44,0.2],[7187.48,0.07],[7187.54,0.03],[7187.65,0.01],[7187.75,0],null,[7188.55,0],[7188.58,-0.02],[7188.62,0.01],[7188.66,0],null,[7189.02,0],[7189.09,-0.05],[7189.12,-0.14],[7189.15,0],[7189.18,0.14],[7189.24,0.04],[7189.30,0],null,[7189.80,0],[7189.85,-0.02],[7189.90,0.02],[7189.95,0],null,[7190.02,0],[7190.07,-0.04],[7190.10,0],[7190.14,0.04],[7190.20,0.02]];
const Q_9 = [[7179.94,0],[7179.98,0.03],[7180.02,0],null,[7181.10,0],[7181.15,0.05],[7181.20,0.08],[7181.24,-0.02],[7181.28,0],null,[7181.47,0],[7181.52,0.13],[7181.56,-0.03],[7181.60,0],null,[7181.71,0],[7181.74,0.03],[7181.77,0],null,[7181.94,0],[7181.98,0.04],[7182.02,0],null,[7184.40,0],[7184.47,0.03],[7184.52,0.1],[7184.56,-0.02],[7184.65,0],null,[7186.11,0],[7186.14,0.06],[7186.17,0],null,[7186.34,0],[7186.38,0.06],[7186.41,-0.03],[7186.45,0],null,[7186.97,0],[7187.00,0.03],[7187.03,0],null,[7187.26,0],[7187.30,0.02],[7187.36,0.03],[7187.39,0.11],[7187.43,-0.02],[7187.55,-0.02],[7187.58,0]];
const VBAR_9 = [[7179.96,-0.09],[7180.02,0.11],[7181.15,-0.255],[7181.22,0.28],[7181.89,-0.07],[7182.00,0.1],[7187.28,-0.33],[7187.41,0.47],[7189.18,0.13]];
const QBAR_9 = [[7181.20,0.1],[7187.32,0.06],[7187.39,0.11]];
const VDASH_9 = [[7182.30,7182.33],[7183.44,7183.47],[7184.20,7184.28],[7185.28,7185.32],[7185.55,7185.58],[7186.86,7186.91],[7187.05,7187.13],[7188.50,7188.53],[7189.70,7189.80],[7189.98,7190.00]];
const QDASH_9 = [[7180.10,7180.15],[7181.25,7181.35],[7186.20,7186.25],[7186.94,7186.98],[7187.19,7187.26],[7189.20,7189.26]];
const IDS_9 = [[7179.99,'FE1'],[7180.19,'CN'],[7180.78,'CN'],[7181.18,'FE1'],[7181.51,'ATMH2O'],[7181.74,'ATMH2O'],[7181.94,'NI1'],[7182.39,'ATM'],[7182.81,'ATM'],[7183.45,'CN'],[7184.36,'ATMH2O'],[7184.51,'ATMH2O'],[7184.90,'//SI1'],[7185.13,'CN'],[7185.28,'ATMH2O'],[7185.55,'CR1'],[7186.13,'ATMH2O'],[7186.38,'ATMH2O'],[7187.00,'ATMH2O'],[7187.38,'FE1-'],[7187.99,'ATMH2O'],[7188.60,'TI1'],[7188.98,'ATMH2O'],[7189.13,'FE1'],[7189.85,'TI1'],[7190.11,'FE1']];
const LANDE_9 = [[7179.99,1.378],[7181.17,1.316],[7181.97,0.499],[7187.28,1.271],[7189.13,0.993],[7190.11,0.493]];

// ---- panel 10 : 7190-7200
const SPEC_10 = [[7189.80,0.945],[7189.86,0.91],[7189.92,0.95],[7189.98,0.97],[7190.05,0.94],[7190.12,0.885],[7190.20,0.97],[7190.30,0.995],[7190.40,0.995],[7190.42,0.988],[7190.45,0.995],[7190.95,0.995],[7191.30,0.99],[7191.38,0.885],[7191.44,0.71],[7191.48,0.535],[7191.52,0.685],[7191.56,0.81],[7191.60,0.835],[7191.66,0.785],[7191.72,0.9],[7191.78,0.94],[7191.86,0.835],[7191.95,0.95],[7192.05,0.99],[7192.35,0.98],[7192.45,0.835],[7192.55,0.98],[7192.70,0.99],[7192.90,0.98],[7193.05,0.915],[7193.20,0.87],[7193.35,0.935],[7193.45,0.96],[7193.50,0.89],[7193.54,0.82],[7193.60,0.895],[7193.67,0.935],[7193.72,0.88],[7193.76,0.835],[7193.82,0.925],[7193.90,0.92],[7194.00,0.98],[7194.10,0.99],[7194.36,0.985],[7194.50,0.99],[7194.60,0.99],[7194.70,0.98],[7194.80,0.905],[7194.89,0.78],[7194.97,0.905],[7195.00,0.945],[7195.03,0.87],[7195.10,0.97],[7195.20,0.99],[7195.45,0.985],[7195.51,0.955],[7195.58,0.985],[7195.75,0.985],[7195.80,0.97],[7195.87,0.99],[7196.70,0.99],[7196.80,0.945],[7196.88,0.845],[7196.95,0.695],[7197.02,0.54],[7197.08,0.72],[7197.13,0.855],[7197.20,0.92],[7197.24,0.905],[7197.30,0.97],[7197.40,0.965],[7197.45,0.98],[7197.80,0.985],[7197.86,0.92],[7197.93,0.985],[7198.35,0.985],[7198.43,0.87],[7198.50,0.975],[7198.60,0.99],[7200.20,0.985]];
const V_10 = [[7189.82,0],[7189.90,0.02],[7189.98,0.01],[7190.02,0],[7190.08,-0.045],[7190.12,0],[7190.15,0.04],[7190.22,0],null,[7191.30,0],[7191.40,-0.085],[7191.44,-0.21],[7191.47,-0.3],[7191.49,0],[7191.52,0.265],[7191.56,0.09],[7191.60,-0.035],[7191.63,-0.05],[7191.66,0],[7191.70,0.03],[7191.76,0],[7191.84,-0.04],[7191.87,0],[7191.90,0.04],[7191.96,0],null,[7192.35,0],[7192.41,-0.03],[7192.45,0],[7192.50,0.05],[7192.56,0],null,[7192.95,0],[7193.10,-0.03],[7193.20,0],[7193.30,0.03],[7193.42,0],null,[7193.48,0],[7193.52,-0.135],[7193.55,0],[7193.58,0.075],[7193.63,0.05],[7193.67,0],[7193.73,-0.085],[7193.76,0],[7193.79,0.1],[7193.84,0.02],[7193.90,0],null,[7194.75,0],[7194.85,-0.085],[7194.90,0],[7194.95,0.05],[7195.00,0],[7195.02,-0.02],[7195.05,0.04],[7195.10,0],null,[7196.75,0],[7196.85,-0.02],[7196.93,-0.085],[7196.97,-0.225],[7197.02,0],[7197.06,0.29],[7197.10,0.09],[7197.15,0.015],[7197.20,0],[7197.25,0.02],[7197.30,0],null,[7197.80,0],[7197.84,-0.04],[7197.87,0],[7197.90,0.04],[7197.95,0],null,[7198.35,0],[7198.40,-0.06],[7198.43,0],[7198.46,0.04],[7198.52,0]];
const Q_10 = [[7191.44,0],[7191.49,0.14],[7191.54,-0.03],[7191.60,0],null,[7191.84,0],[7191.87,0.02],[7191.90,0],null,[7193.50,0],[7193.54,0.05],[7193.58,0],null,[7193.72,0],[7193.76,0.05],[7193.80,0],null,[7194.85,0],[7194.88,0.02],[7194.92,0],null,[7196.95,0],[7197.00,0.04],[7197.08,-0.02],[7197.12,0],null,[7198.39,0],[7198.42,0.02],[7198.45,0]];
const VBAR_10 = [[7196.97,-0.225],[7197.06,0.29]];
const QBAR_10 = [[7197.00,0.04]];
const VDASH_10 = [[7190.42,7190.47],[7195.48,7195.55],[7195.77,7195.82],[7196.47,7196.52],[7197.42,7197.47],[7198.20,7198.28],[7198.82,7198.88],[7199.10,7199.16],[7199.48,7199.52],[7199.80,7199.90],[7200.12,7200.18]];
const QDASH_10 = [[7191.95,7192.00],[7193.85,7193.90]];
const IDS_10 = [[7189.86,'TI1'],[7190.12,'FE1'],[7190.41,'ATMH2O'],[7190.95,'ATMH2O'],[7191.48,'ATMH2O'],[7191.66,'FE1'],[7191.86,'ATMH2O'],[7192.45,'FE1'],[7193.17,'MG1'],[7193.54,'ATMH2O'],[7193.76,'ATMH2O'],[7194.06,'FE1P'],[7194.36,'CN'],[7194.56,'FE1'],[7194.92,'FE1'],[7195.04,'ATMH2O'],[7195.27,'ATMH2O'],[7195.51,'CR1'],[7195.79,'ATMH2O'],[7196.48,'ATM'],[7197.02,'NI1'],[7197.23,'ATMH2O'],[7197.40,'ATMH2O'],[7197.86,'ATMH2O'],[7198.43,'ATMH2O'],[7198.85,'CN'],[7199.06,'ATM'],[7199.42,'ATMH2O'],[7199.79,'SUN'],[7200.02,'ATMH2O'],[7200.08,'SUN'],[7200.19,'CN']];
const LANDE_10 = [[7190.12,0.493],[7196.97,1.321]];

const Y_TICK_VALS = [-0.5, 0, 0.5, 1.0];
const Y_TICK_TEXT = ['\u22120.5', '0.0', '0.5', '1.0'];

// ---------------- BUILD ----------------
const PANELS = [
  {spec:SPEC_1,v:V_1,q:Q_1,vbar:VBAR_1,qbar:QBAR_1,vdash:VDASH_1,qdash:QDASH_1,ids:IDS_1,lande:LANDE_1},
  {spec:SPEC_2,v:V_2,q:Q_2,vbar:VBAR_2,qbar:QBAR_2,vdash:VDASH_2,qdash:QDASH_2,ids:IDS_2,lande:LANDE_2},
  {spec:SPEC_3,v:V_3,q:Q_3,vbar:VBAR_3,qbar:QBAR_3,vdash:VDASH_3,qdash:QDASH_3,ids:IDS_3,lande:LANDE_3},
  {spec:SPEC_4,v:V_4,q:Q_4,vbar:VBAR_4,qbar:QBAR_4,vdash:VDASH_4,qdash:QDASH_4,ids:IDS_4,lande:LANDE_4},
  {spec:SPEC_5,v:V_5,q:Q_5,vbar:VBAR_5,qbar:QBAR_5,vdash:VDASH_5,qdash:QDASH_5,ids:IDS_5,lande:LANDE_5},
  {spec:SPEC_6,v:V_6,q:Q_6,vbar:VBAR_6,qbar:QBAR_6,vdash:VDASH_6,qdash:QDASH_6,ids:IDS_6,lande:LANDE_6},
  {spec:SPEC_7,v:V_7,q:Q_7,vbar:VBAR_7,qbar:QBAR_7,vdash:VDASH_7,qdash:QDASH_7,ids:IDS_7,lande:LANDE_7},
  {spec:SPEC_8,v:V_8,q:Q_8,vbar:VBAR_8,qbar:QBAR_8,vdash:VDASH_8,qdash:QDASH_8,ids:IDS_8,lande:LANDE_8},
  {spec:SPEC_9,v:V_9,q:Q_9,vbar:VBAR_9,qbar:QBAR_9,vdash:VDASH_9,qdash:QDASH_9,ids:IDS_9,lande:LANDE_9},
  {spec:SPEC_10,v:V_10,q:Q_10,vbar:VBAR_10,qbar:QBAR_10,vdash:VDASH_10,qdash:QDASH_10,ids:IDS_10,lande:LANDE_10}
];

const W = 2280, H = 3324;
const PL = 79, PR = 2256, TOP0 = 20, PITCH = 332.3, PH = 269;
const FT = '"DejaVu Sans", sans-serif';
const FC = '"DejaVu Sans Condensed", "DejaVu Sans", sans-serif';
const FM = '"DejaVu Sans Mono", monospace';
const RED = '#ff0000', GREEN = '#009a00', BLUE = '#2828ff';

function xy(pairs){ const x=[],y=[]; pairs.forEach(p=>{ if(p===null){x.push(null);y.push(null);} else {x.push(p[0]);y.push(p[1]);} }); return {x,y}; }
function bars(list){ const x=[],y=[]; list.forEach(b=>{x.push(b[0],b[0],null);y.push(0,b[1],null);}); return {x,y}; }
function dashes(list){ const x=[],y=[]; list.forEach(d=>{x.push(d[0],d[1],null);y.push(0,0,null);}); return {x,y}; }

const data = [], annotations = [], shapes = [];
const layout = {
  width: W, height: H, margin:{l:0,r:0,t:0,b:0},
  paper_bgcolor:'#ffffff', plot_bgcolor:'#ffffff', showlegend:false,
  font:{family:FC, color:'#000'}
};

const yMinor = [];
for (let k=-6;k<=13;k++){ if (k%5!==0) yMinor.push(k/10); }
const gridVals = [];
for (let k=-6;k<=10;k++){ if (k!==0) gridVals.push(k/10); }

PANELS.forEach((p,i)=>{
  const n = i+1, sfx = n===1?'':String(n);
  const xa = 'x'+sfx, ya = 'y'+sfx;
  const s = PANEL_STARTS[i];
  const top = TOP0 + PITCH*i, bot = top + PH;

  layout['xaxis'+sfx] = {
    domain:[PL/W, PR/W], range:[s-0.2, s+10.2], anchor:ya,
    showline:true, linecolor:'#000', linewidth:1.5, mirror:'ticks',
    ticks:'inside', ticklen:10, tickwidth:1, tickcolor:'#000',
    tickmode:'linear', tick0:s, dtick:1, tickformat:'d',
    minor:{dtick:0.1, tick0:s, ticks:'inside', ticklen:5, tickwidth:1, tickcolor:'#000', showgrid:false},
    showgrid:false, zeroline:false, fixedrange:true,
    tickfont:{family:FC, size:15, color:'#000'}
  };
  layout['yaxis'+sfx] = {
    domain:[1-bot/H, 1-top/H], range:[-0.7, 1.4], anchor:xa,
    showline:true, linecolor:'#000', linewidth:1.5, mirror:'ticks',
    ticks:'inside', ticklen:9, tickwidth:1, tickcolor:'#000',
    tickmode:'array', tickvals:Y_TICK_VALS, ticktext:Y_TICK_TEXT,
    minor:{tickmode:'array', tickvals:yMinor, ticks:'inside', ticklen:9, tickwidth:1, tickcolor:'#000', showgrid:false},
    showgrid:false, zeroline:true, zerolinecolor:'#000', zerolinewidth:1.6, fixedrange:true,
    tickfont:{family:FC, size:15, color:'#000'}
  };

  gridVals.forEach(v=>{
    shapes.push({type:'line', layer:'below', xref:xa+' domain', yref:ya, x0:0.004, x1:1, y0:v, y1:v,
      line:{color:'#000', width:1.2, dash:'1.5px,2.7px'}});
  });

  const sp = xy(p.spec);
  data.push({type:'scatter', mode:'lines', x:sp.x, y:sp.y, xaxis:xa, yaxis:ya, hoverinfo:'skip',
    line:{color:'#000', width:2.7, shape:'spline', smoothing:0.6}});
  const vd = dashes(p.vdash);
  data.push({type:'scatter', mode:'lines', x:vd.x, y:vd.y, xaxis:xa, yaxis:ya, hoverinfo:'skip', line:{color:RED, width:3.5}});
  const qd = dashes(p.qdash);
  data.push({type:'scatter', mode:'lines', x:qd.x, y:qd.y, xaxis:xa, yaxis:ya, hoverinfo:'skip', line:{color:GREEN, width:3.5}});
  const vv = xy(p.v);
  data.push({type:'scatter', mode:'lines', x:vv.x, y:vv.y, xaxis:xa, yaxis:ya, hoverinfo:'skip', line:{color:RED, width:1.3}});
  const qq = xy(p.q);
  data.push({type:'scatter', mode:'lines', x:qq.x, y:qq.y, xaxis:xa, yaxis:ya, hoverinfo:'skip', line:{color:GREEN, width:1.3}});
  const vb = bars(p.vbar);
  data.push({type:'scatter', mode:'lines', x:vb.x, y:vb.y, xaxis:xa, yaxis:ya, hoverinfo:'skip', line:{color:RED, width:3}});
  const qb = bars(p.qbar);
  data.push({type:'scatter', mode:'lines', x:qb.x, y:qb.y, xaxis:xa, yaxis:ya, hoverinfo:'skip', line:{color:GREEN, width:3}});

  // panel title
  annotations.push({xref:'paper', yref:'paper', x:(PL+PR)/2/W, y:1-(top+1)/H, xanchor:'center', yanchor:'bottom', showarrow:false, borderpad:0,
    text:'Atlas from Delbouille <i>et al</i> (<i>\u03bc</i>=1.0), V/I &amp; SQRT(Q\u00b2+U\u00b2)/I for g=1 &amp; B=1000 G, polarization rates for B=1000 G (bars), line identification (Moore table), Lande factors, from '+s+' \u00c5 to '+(s+10)+' \u00c5',
    font:{family:FT, size:17, color:'#000'}});
  // x axis title
  annotations.push({xref:'paper', yref:'paper', x:(PL+PR)/2/W, y:1-(bot+26)/H, xanchor:'center', yanchor:'middle', showarrow:false, borderpad:0,
    text:'WAVELENGTH (\u00c5)', font:{family:FC, size:13, color:'#000'}});
  // y axis title
  annotations.push({xref:'paper', yref:'paper', x:29/W, y:1-(top+PH/2)/H, xanchor:'center', yanchor:'middle', showarrow:false, textangle:-90, borderpad:0,
    text:'Intensity  I/Ic,  V/I,  SQRT(Q\u00b2+U\u00b2)/I', font:{family:FC, size:15, color:'#000'}});
  // line identifications
  p.ids.forEach(d=>{
    annotations.push({xref:xa, yref:ya, x:d[0], y:1.0, xanchor:'right', yanchor:'bottom', textangle:-90, showarrow:false,
      borderpad:0, xshift:2, text:'_'+d[1], font:{family:FM, size:12, color:'#000'}});
  });
  // Lande factors
  p.lande.forEach(d=>{
    annotations.push({xref:xa, yref:ya, x:d[0], y:-0.34, xanchor:'center', yanchor:'top', textangle:-90, showarrow:false,
      borderpad:0, text:d[1].toFixed(3), font:{family:FM, size:13, color:BLUE}});
  });
});

layout.annotations = annotations;
layout.shapes = shapes;

Plotly.newPlot('chart', data, layout, {displayModeBar:false, staticPlot:true});
</script>
</body>
</html>
